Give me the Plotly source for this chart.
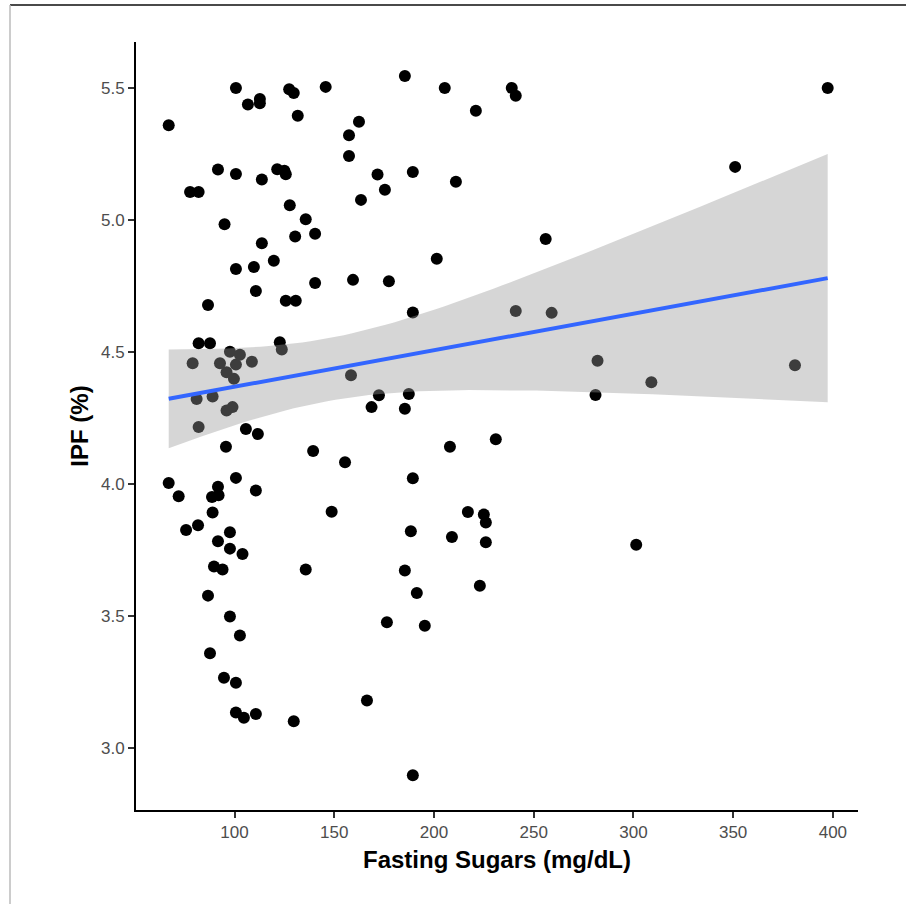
import numpy as np
import plotly.graph_objects as go

fasting_sugars = [
    100.7, 106.7, 112.7, 112.7, 127.4, 129.7, 145.7, 131.7, 67.0, 162.4,
    157.4, 157.4, 91.7, 100.7, 113.7, 121.4, 125.0, 125.7, 171.7, 77.7,
    82.0, 127.7, 163.4, 135.7, 95.0, 130.4, 140.4, 113.7, 119.7, 100.7,
    109.7, 140.4, 159.4, 110.7, 86.7, 125.7, 130.7, 185.4, 205.4, 239.0,
    241.0, 221.0, 175.4, 189.4, 211.0, 256.0, 201.4, 177.4, 189.4, 241.0,
    259.0, 282.0, 281.0, 172.4, 168.7, 187.4, 185.4, 208.0, 231.0, 189.4,
    217.0, 225.0, 226.0, 188.4, 209.0, 226.0, 185.4, 191.4, 223.0, 176.4,
    195.4, 189.4, 397.4, 351.0, 381.0, 309.0, 301.4, 82.0, 87.7, 122.7,
    123.7, 97.7, 102.7, 79.0, 92.7, 100.7, 108.7, 96.0, 99.7, 158.4,
    81.0, 89.0, 96.0, 99.0, 82.0, 105.7, 111.7, 95.7, 139.4, 155.4,
    67.0, 72.0, 100.7, 91.7, 88.7, 92.0, 110.7, 148.7, 89.0, 75.7,
    81.7, 97.7, 91.7, 97.7, 104.0, 89.7, 94.0, 135.7, 86.7, 97.7,
    102.7, 87.7, 94.7, 100.7, 100.7, 104.7, 110.7, 129.7, 166.4,
]
ipf = [
    5.500, 5.437, 5.458, 5.442, 5.495, 5.481, 5.504, 5.395, 5.359, 5.372,
    5.321, 5.242, 5.191, 5.174, 5.153, 5.192, 5.186, 5.173, 5.172, 5.106,
    5.106, 5.056, 5.076, 5.003, 4.984, 4.937, 4.948, 4.912, 4.845, 4.814,
    4.822, 4.761, 4.773, 4.731, 4.678, 4.694, 4.694, 5.545, 5.500, 5.500,
    5.470, 5.414, 5.114, 5.182, 5.145, 4.928, 4.853, 4.768, 4.649, 4.655,
    4.648, 4.467, 4.337, 4.336, 4.291, 4.341, 4.285, 4.141, 4.169, 4.022,
    3.894, 3.884, 3.854, 3.821, 3.799, 3.779, 3.672, 3.587, 3.614, 3.476,
    3.463, 2.897, 5.500, 5.201, 4.450, 4.385, 3.770, 4.533, 4.533, 4.537,
    4.509, 4.501, 4.489, 4.457, 4.457, 4.452, 4.463, 4.423, 4.398, 4.412,
    4.322, 4.331, 4.278, 4.291, 4.216, 4.208, 4.189, 4.141, 4.125, 4.082,
    4.004, 3.953, 4.023, 3.989, 3.951, 3.957, 3.975, 3.895, 3.892, 3.826,
    3.844, 3.817, 3.783, 3.755, 3.735, 3.687, 3.676, 3.676, 3.577, 3.498,
    3.426, 3.359, 3.266, 3.247, 3.134, 3.114, 3.129, 3.101, 3.180,
]
x_ticks = [100, 150, 200, 250, 300, 350, 400]
y_ticks = [3.0, 3.5, 4.0, 4.5, 5.0, 5.5]

# Linear model fit with 95% confidence band (as geom_smooth(method="lm"))
x = np.array(fasting_sugars)
y = np.array(ipf)
n = len(x)
b1, b0 = np.polyfit(x, y, 1)
resid = y - (b0 + b1 * x)
s = np.sqrt(np.sum(resid ** 2) / (n - 2))
xg = np.linspace(x.min(), x.max(), 80)
yg = b0 + b1 * xg
se = s * np.sqrt(1.0 / n + (xg - x.mean()) ** 2 / np.sum((x - x.mean()) ** 2))
tval = 1.979
upper = yg + tval * se
lower = yg - tval * se

fig = go.Figure()
fig.add_trace(go.Scatter(
    x=fasting_sugars, y=ipf, mode="markers",
    marker=dict(color="black", size=12, line=dict(width=0)),
    showlegend=False, hoverinfo="x+y",
))
fig.add_trace(go.Scatter(
    x=np.concatenate([xg, xg[::-1]]), y=np.concatenate([upper, lower[::-1]]),
    fill="toself", fillcolor="rgba(153,153,153,0.4)", line=dict(width=0),
    mode="lines", showlegend=False, hoverinfo="skip",
))
fig.add_trace(go.Scatter(
    x=xg, y=yg, mode="lines", line=dict(color="#3366FF", width=4),
    showlegend=False, hoverinfo="skip",
))

W, H = 906, 904
L, R, T, B = 136, 48, 42, 94
pw, ph = W - L - R, H - T - B

def px(xp):
    return (xp - L) / pw

def py(yp):
    return (H - B - yp) / ph

fig.update_layout(
    width=W, height=H,
    margin=dict(l=L, r=R, t=T, b=B),
    paper_bgcolor="white", plot_bgcolor="white",
    font=dict(family="Liberation Sans, Arial, sans-serif"),
    xaxis=dict(
        range=[50.6, 412.6], tickvals=x_ticks, ticktext=[str(v) for v in x_ticks],
        showgrid=False, zeroline=False, showline=True, linecolor="black", linewidth=2,
        ticks="outside", ticklen=6, tickwidth=1.5, tickcolor="#333333",
        tickfont=dict(size=17, color="#4d4d4d"),
        title=dict(text="<b>Fasting Sugars (mg/dL)</b>", font=dict(size=24, color="black"), standoff=10),
    ),
    yaxis=dict(
        range=[2.765, 5.674], tickvals=y_ticks, ticktext=[f"{v:.1f}" for v in y_ticks],
        showgrid=False, zeroline=False, showline=True, linecolor="black", linewidth=2,
        ticks="outside", ticklen=6, tickwidth=1.5, tickcolor="#333333",
        tickfont=dict(size=17, color="#4d4d4d"),
        title=dict(text="<b>IPF (%)</b>", font=dict(size=24, color="black"), standoff=6),
    ),
    shapes=[
        dict(type="line", xref="paper", yref="paper", x0=px(10), x1=px(906), y0=py(5), y1=py(5),
             line=dict(color="#4a4a4a", width=2)),
        dict(type="line", xref="paper", yref="paper", x0=px(10), x1=px(10), y0=py(5), y1=py(904),
             line=dict(color="#bbbbbb", width=1.5)),
    ],
)

fig.write_html("out.html")
